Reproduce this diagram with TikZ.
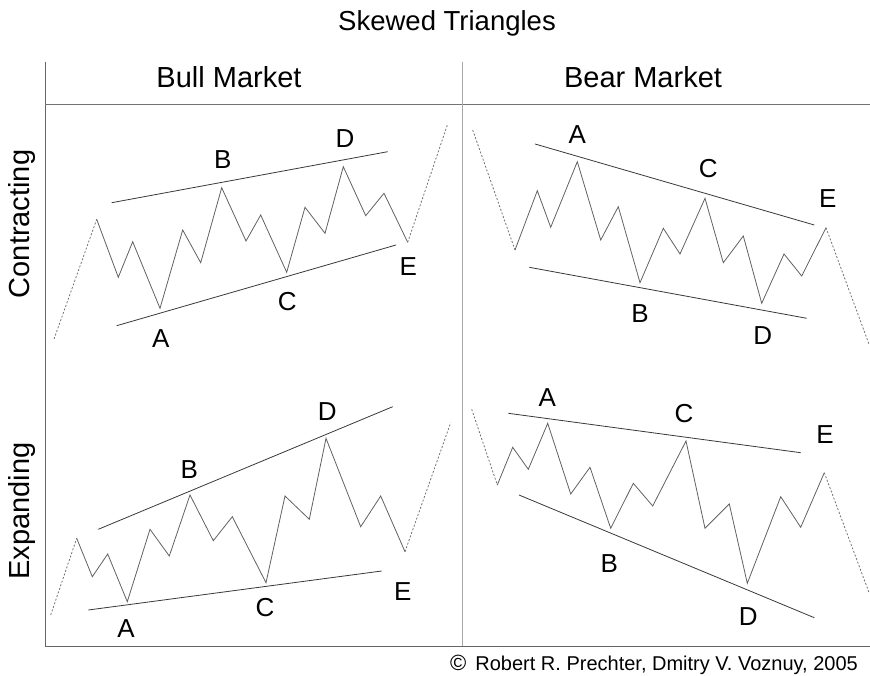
\documentclass[tikz,border=0pt]{standalone}
\usepackage{fontspec}
\setmainfont{Liberation Sans}
\usepackage{xcolor}
\usepackage{tikz}

\begin{document}
\begin{tikzpicture}[x=1pt,y=-1pt,
    wave/.style={draw=black!62, line width=0.8pt},
    trend/.style={draw=black!55, line width=0.8pt, dash pattern=on 2pt off 1.8pt},
    chan/.style={draw=black!78, line width=0.8pt},
    lbl/.style={inner sep=0pt, font=\fontsize{26}{30}\selectfont},
    head/.style={inner sep=0pt, anchor=base, font=\fontsize{29}{34}\selectfont}]
  \useasboundingbox (0,0) rectangle (870,676);
  % frame
  \draw[black!60, line width=1pt] (45,62) -- (45,646) -- (870,646);
  \draw[black!55, line width=1pt] (45,105) -- (870,105);
  \draw[black!35, line width=1pt] (462,62) -- (462,646);
  \node[head, font=\fontsize{27.5}{32}\selectfont] (title) at (447,31) {Skewed Triangles};
  \node[head] (bull) at (229,88) {Bull Market};
  \node[head] (bear) at (643,88) {Bear Market};
  \node[head, rotate=90] (contr) at (29,224) {Contracting};
  \node[head, rotate=90] (expan) at (29,511) {Expanding};
  \node[inner sep=0pt, anchor=base east, font=\fontsize{20}{24}\selectfont] (copy) at (858,670.5)
     {{\fontsize{22}{24}\selectfont\textcopyright}\hspace{9pt}Robert R. Prechter, Dmitry V. Voznuy, 2005};

  % bull market, contracting
  \draw[trend] (54,339) -- (96.7,219.3);
  \draw[wave] (96.7,219.3) -- (118.3,277.3) -- (132.7,241.7) -- (160,308.3) -- (182.7,230)
     -- (200.7,262.7) -- (221.7,187.7) -- (246,241) -- (260.7,215) -- (286.7,272.3)
     -- (305,207.3) -- (325,233.3) -- (343.3,166.7) -- (365.7,215.7) -- (384,193.3) -- (407.7,242.3);
  \draw[trend] (407.7,242.3) -- (447.3,125);
  \draw[chan] (111.7,202.7) -- (387.7,151.7);
  \draw[chan] (116.7,325.7) -- (396,245);
  \node[lbl] (ca) at (160.7,338.3) {A}; \node[lbl] (cb) at (222.7,160) {B};
  \node[lbl] (cc) at (287.3,301.7) {C}; \node[lbl] (cd) at (345,138.3) {D};
  \node[lbl] (ce) at (408.3,266.7) {E};

  % bear market, contracting
  \draw[trend] (472.7,130) -- (515,250);
  \draw[wave] (515,250) -- (537.3,190.7) -- (550.7,227.3) -- (577.3,161.7) -- (600.7,240)
     -- (618.3,206.7) -- (640,282.7) -- (663.3,228.3) -- (680,254) -- (705,198.3)
     -- (723.3,262.7) -- (743.3,236) -- (761.7,303.3) -- (784,254) -- (801.7,276) -- (826,227.7);
  \draw[trend] (826,227.7) -- (869.3,345);
  \draw[chan] (535,144) -- (814.3,225);
  \draw[chan] (529.3,267.3) -- (806.7,318.3);
  \node[lbl] (ra) at (577.3,135) {A}; \node[lbl] (rb) at (640,313.3) {B};
  \node[lbl] (rc) at (708.3,168.3) {C}; \node[lbl] (rd) at (762.7,336) {D};
  \node[lbl] (re) at (827.7,198.3) {E};

  % bull market, expanding
  \draw[trend] (50.7,615) -- (76.7,538.3);
  \draw[wave] (76.7,538.3) -- (92.3,576.7) -- (107.7,554) -- (127.3,601.7) -- (150,529.3)
     -- (169.3,556) -- (190,495) -- (213.3,540.7) -- (232.3,516.7) -- (266,582.7)
     -- (285,496) -- (309.3,519.3) -- (326,438.3) -- (360.7,526.7) -- (380.7,496) -- (405,551.7);
  \draw[trend] (405,551.7) -- (450.7,422.7);
  \draw[chan] (98.3,529.3) -- (392.7,406.7);
  \draw[chan] (88.3,610) -- (381.7,571);
  \node[lbl] (ea) at (126,628.3) {A}; \node[lbl] (eb) at (189.3,469.3) {B};
  \node[lbl] (ec) at (265,607.3) {C}; \node[lbl] (ed) at (327.3,411.7) {D};
  \node[lbl] (ee) at (402.7,591.7) {E};

  % bear market, expanding
  \draw[trend] (471.7,409.3) -- (497.3,485);
  \draw[wave] (497.3,485) -- (512.7,447.3) -- (528.3,469.3) -- (547.7,423.3) -- (570.7,494)
     -- (590,467.3) -- (610.7,528.3) -- (633.3,483.3) -- (652.7,506) -- (686,441)
     -- (705,528.3) -- (729.3,504) -- (747.3,583.3) -- (780.7,496.7) -- (800.7,527.3) -- (824.3,472.7);
  \draw[trend] (824.3,472.7) -- (869.3,593.3);
  \draw[chan] (508.3,413.3) -- (800.7,452.7);
  \draw[chan] (519,495) -- (814.3,617.7);
  \node[lbl] (xa) at (547.3,397.3) {A}; \node[lbl] (xb) at (609.3,563.3) {B};
  \node[lbl] (xc) at (684,413.3) {C}; \node[lbl] (xd) at (748.3,616.7) {D};
  \node[lbl] (xe) at (825,435) {E};
\end{tikzpicture}
\end{document}
